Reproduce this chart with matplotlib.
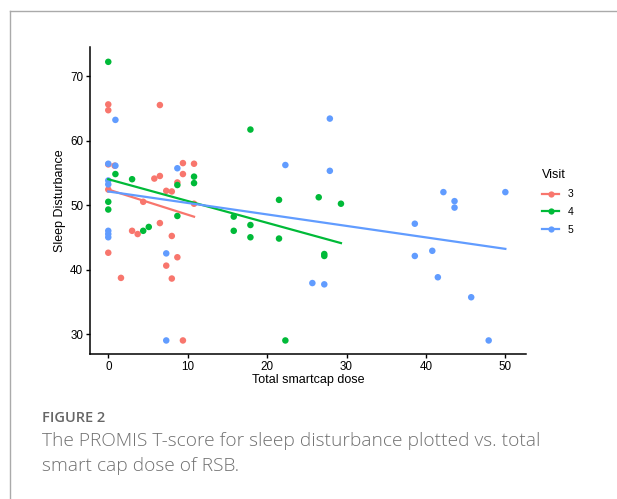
import numpy as np
import matplotlib
matplotlib.use("Agg")
import matplotlib.pyplot as plt
from matplotlib.lines import Line2D

# visit 3
x3 = [0, 0, 6.5, 0, 0.8, 0, 0, 1.6, 3.0, 3.7, 4.4, 5.8, 6.5, 6.5, 7.3, 8.0, 7.3,
      8.0, 8.0, 8.7, 8.7, 9.4, 9.4, 9.4, 10.8, 10.8]
y3 = [65.6, 64.7, 65.5, 56.3, 56.1, 52.4, 42.6, 38.7, 46.0, 45.5, 50.5, 54.1, 54.5,
      47.2, 52.2, 52.1, 40.6, 45.2, 38.6, 53.5, 41.9, 56.5, 54.8, 29.0, 56.4, 50.2]
# visit 4
x4 = [0, 0.9, 3.0, 0, 0, 4.4, 5.1, 8.7, 8.7, 10.8, 10.8, 15.8, 15.8, 17.9, 17.9,
      17.9, 21.5, 21.5, 22.3, 26.5, 27.2, 27.2, 29.3]
y4 = [72.2, 54.8, 54.0, 50.5, 49.3, 46.0, 46.6, 53.1, 48.3, 54.4, 53.4, 48.2, 46.0,
      61.7, 46.9, 45.0, 50.8, 44.8, 29.0, 51.2, 42.4, 42.1, 50.2]
# visit 5
x5 = [0.9, 0, 0.9, 0, 0, 0, 0, 0, 8.7, 7.3, 7.3, 22.3, 27.9, 27.9, 25.7, 27.2,
      38.6, 38.6, 40.8, 41.5, 42.2, 43.6, 43.6, 45.7, 47.9, 50.0]
y5 = [63.2, 56.4, 56.1, 53.8, 53.2, 46.0, 45.5, 45.0, 55.7, 42.5, 29.0, 56.2, 63.4,
      55.3, 37.9, 37.7, 47.1, 42.1, 42.9, 38.8, 52.0, 50.6, 49.6, 35.7, 29.0, 52.0]

# linear fits as drawn in the figure (intercept, slope)
fit_intercept = [52.4, 54.0, 52.1]
fit_slope = [-0.39, -0.338, -0.178]

visits = ["3", "4", "5"]
colors = ["#F8766D", "#00BA38", "#619CFF"]

fig = plt.figure(figsize=(6.17, 4.99), dpi=100)
plt.rcParams['font.family'] = ['Liberation Sans', 'DejaVu Sans']

# card border (left and top)
fig.add_artist(Line2D([10/617, 10/617], [0, 1 - 11/499], color="#aaaaaa", lw=1))
fig.add_artist(Line2D([10/617, 1], [1 - 11/499, 1 - 11/499], color="#aaaaaa", lw=1))

ax = fig.add_axes([90/617, 1 - 354/499, (526 - 90)/617, (354 - 47)/499])

data = [(x3, y3), (x4, y4), (x5, y5)]
for (xs, ys), c in zip(data, colors):
    ax.scatter(xs, ys, s=22, color=c, edgecolors="none", zorder=3)
for (xs, ys), a, b, c in zip(data, fit_intercept, fit_slope, colors):
    xx = np.array([min(xs), max(xs)])
    ax.plot(xx, a + b * xx, color=c, lw=1.6, zorder=4)

ax.set_xlim(-2.3, 52.6)
ax.set_ylim(26.9, 74.5)
ax.set_xticks([0, 10, 20, 30, 40, 50])
ax.set_yticks([30, 40, 50, 60, 70])
for s in ["top", "right"]:
    ax.spines[s].set_visible(False)
for s in ["left", "bottom"]:
    ax.spines[s].set_linewidth(1.1)
ax.tick_params(length=3, width=1, labelsize=8.4, colors="black", pad=2)
ax.set_xlabel("Total smartcap dose", fontsize=9, labelpad=1)
ax.set_ylabel("Sleep Disturbance", fontsize=9, labelpad=3)

handles = [Line2D([0], [0], color=c, lw=1.6, marker="o", markersize=4.5,
                  markeredgewidth=0) for c in colors]
leg = fig.legend(handles, visits, title="Visit", loc="upper left",
                 bbox_to_anchor=(533/617, 1 - 160/499), frameon=False,
                 fontsize=7.5, title_fontsize=9, handlelength=1.6,
                 labelspacing=0.75, alignment="left")

fig.text(42/617, 1 - 418/499, "FIGURE 2", fontsize=10.5, color="#666666",
         family="Open Sans", va="center", weight="semibold")
fig.text(42/617, 1 - 441/499, "The PROMIS T-score for sleep disturbance plotted vs. total",
         fontsize=13.8, color="#707070", family="Open Sans", va="center", weight="light")
fig.text(42/617, 1 - 466/499, "smart cap dose of RSB.",
         fontsize=13.8, color="#707070", family="Open Sans", va="center", weight="light")

fig.savefig("out.png", dpi=100)
